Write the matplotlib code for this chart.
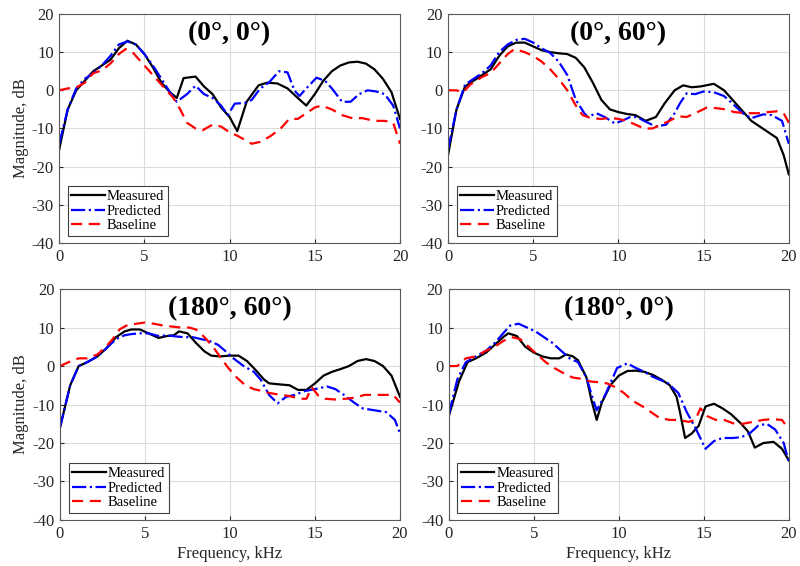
import matplotlib
matplotlib.use("Agg")
import matplotlib.pyplot as plt

plt.rcParams['font.family'] = ['Liberation Serif', 'DejaVu Serif']
plt.rcParams['axes.unicode_minus'] = False

# ---- Panel (0°, 0°)
p1_meas_f = [0, 0.5, 1.0, 1.5, 2, 2.5, 3, 3.5, 4, 4.5, 5, 5.5, 6, 6.5, 6.9, 7.3, 8.0, 8.5, 9.0, 9.5, 10.0, 10.45, 11.0, 11.7, 12.2, 12.8, 13.4, 14, 14.5, 15, 15.5, 16, 16.5, 17, 17.5, 18, 18.5, 19, 19.5, 20]
p1_meas_v = [-15.5, -5, 0, 2.5, 5, 6.5, 8, 11, 13, 12, 9.5, 6, 2, -0.5, -2, 3.2, 3.6, 1, -1, -4.5, -7, -10.7, -3, 1.3, 2, 1.8, 0.5, -2, -4, -1, 2.5, 5, 6.5, 7.3, 7.5, 7, 5.5, 3, -0.5, -7.5]
p1_pred_f = [0, 0.5, 1, 1.5, 2, 2.5, 3, 3.5, 4, 4.5, 5, 5.5, 6, 6.5, 6.9, 7.5, 8.0, 8.5, 9.0, 9.5, 9.9, 10.3, 10.9, 11.3, 11.8, 12.3, 12.9, 13.4, 13.8, 14.1, 14.5, 15.1, 15.6, 16, 16.6, 17.1, 17.6, 18.1, 18.6, 19.1, 19.6, 20]
p1_pred_v = [-14, -5, 0.5, 3, 4.5, 6.5, 9, 12, 12.8, 12, 9.5, 6.5, 3, -0.5, -3, -1, 1.2, -1, -2, -4, -6.5, -3.5, -3.3, -2.5, 0.5, 2, 5, 4.7, 0, -1.5, 0.5, 3.3, 2.5, 0.5, -3, -3, -1, 0, -0.3, -1, -4, -10]
p1_base_f = [0, 0.5, 1, 1.5, 2, 2.5, 3, 3.5, 3.9, 4.3, 4.7, 5.2, 5.7, 6.2, 6.7, 7.1, 7.5, 8, 8.4, 9.0, 9.5, 10.0, 10.5, 11.3, 11.8, 12.4, 13.0, 13.5, 14, 14.5, 15, 15.4, 16, 16.6, 17.2, 17.8, 18.5, 19.1, 19.6, 20]
p1_base_v = [0, 0.5, 0.7, 2, 4.5, 5.2, 7, 9.5, 10.8, 10, 8, 5.5, 3, 0.5, -2, -5, -8.5, -10, -10.5, -9, -9.5, -11, -12, -14, -13.5, -12, -10, -7.5, -7.5, -6, -4.5, -4, -5, -6.5, -7.3, -7.3, -8, -8, -8.5, -14]

# ---- Panel (0°, 60°)
p2_meas_f = [0, 0.5, 1, 1.5, 2, 2.5, 3, 3.5, 4, 4.5, 5, 5.5, 6, 6.5, 7, 7.5, 8, 8.5, 9, 9.5, 10, 10.5, 11, 11.6, 12.2, 12.7, 13.3, 13.8, 14.3, 14.8, 15.6, 16.2, 16.7, 17.2, 17.8, 18.3, 18.8, 19.3, 19.7, 20]
p2_meas_v = [-17, -5, 1, 2.5, 4, 5.5, 9, 11.5, 12.5, 12.5, 11.5, 10.5, 10, 9.7, 9.5, 8.5, 6, 2, -2.5, -5, -5.7, -6.2, -6.5, -8, -7, -3.5, 0, 1.3, 0.8, 1, 1.7, 0, -2.5, -5, -8, -9.5, -11, -12.5, -17, -22]
p2_pred_f = [0, 0.5, 1, 1.5, 2, 2.5, 3, 3.5, 4, 4.5, 5, 5.5, 6, 6.5, 7, 7.5, 8, 8.2, 8.7, 9.2, 9.8, 10.2, 10.7, 11.1, 11.5, 12.2, 12.8, 13.3, 13.6, 14, 14.5, 15, 15.6, 16.2, 16.7, 17.3, 17.8, 18.5, 19.0, 19.6, 20]
p2_pred_v = [-15.5, -5, 1.5, 3, 4.5, 6.5, 10, 12, 13.2, 13.5, 12.5, 11, 9.8, 7.5, 4, -2.5, -6, -7, -6, -7, -8.7, -8, -7, -7, -8, -9.5, -9, -6, -3.5, -0.8, -1, -0.3, -0.5, -1.5, -3.5, -6, -7.3, -6.3, -6.5, -8, -14]
p2_base_f = [0, 0.5, 0.9, 1.3, 2, 2.5, 3, 3.5, 3.9, 4.5, 5, 5.5, 6, 6.5, 7, 7.5, 7.9, 8.4, 9, 9.5, 10, 10.5, 11, 11.5, 12, 12.5, 13, 13.5, 14, 14.5, 15.2, 15.8, 16.3, 16.8, 17.5, 18.2, 18.8, 19.3, 19.7, 20]
p2_base_v = [0, 0, -0.5, 1.5, 3.5, 4.5, 7, 9.5, 10.8, 10, 9, 7.5, 5.5, 3, 0, -4, -6.5, -7.3, -7.5, -7.2, -7.5, -8, -9, -10, -10, -9, -8, -6.8, -7, -6, -4.5, -4.7, -5, -5.7, -6, -6, -5.7, -5.5, -6, -8.5]

# ---- Panel (180°, 60°)
p3_meas_f = [0, 0.6, 1.1, 1.6, 2.2, 2.7, 3.3, 3.8, 4.2, 4.7, 5.2, 5.8, 6.3, 6.7, 7.0, 7.5, 8.0, 8.5, 8.9, 9.4, 10, 10.5, 11, 11.5, 12, 12.3, 13, 13.5, 14, 14.5, 15, 15.5, 16, 16.5, 17, 17.5, 18, 18.5, 19, 19.5, 20]
p3_meas_v = [-16, -5, 0, 1, 2.5, 4.5, 7.5, 9, 9.5, 9.5, 8.5, 7.3, 7.8, 8, 9, 8.5, 6, 3.8, 2.7, 2.5, 2.7, 2.7, 1.3, -1, -3.5, -4.5, -4.8, -5, -6.2, -6.2, -4.5, -2.5, -1.5, -0.8, 0, 1.3, 1.8, 1.3, 0, -2.5, -8]
p3_pred_f = [0, 0.6, 1.1, 1.6, 2.2, 2.7, 3.3, 3.8, 4.2, 4.7, 5.2, 5.8, 6.3, 6.8, 7.3, 7.8, 8.3, 8.8, 9.3, 9.7, 10.2, 10.8, 11.4, 11.8, 12.3, 12.8, 13.3, 13.8, 14.4, 15, 15.7, 16.2, 16.7, 17.3, 17.8, 18.5, 19.2, 19.7, 20]
p3_pred_v = [-16, -5, 0, 1, 2.5, 4.5, 7, 8, 8.3, 8.5, 8.5, 7.8, 8, 7.7, 7.5, 7.5, 7, 6.5, 5.5, 4, 2, 0, -1.5, -3.5, -7.5, -9.7, -8, -7.5, -6.5, -6, -5.3, -6, -7.5, -9.5, -11, -11.5, -12, -14, -17.5]
p3_base_f = [0, 0.5, 1.1, 1.6, 2.2, 2.7, 3.1, 3.5, 3.9, 4.5, 5, 5.5, 6.1, 6.5, 7.1, 7.6, 8.0, 8.5, 9.0, 9.4, 9.9, 10.4, 10.9, 11.4, 11.9, 12.3, 13, 13.5, 14.1, 14.5, 14.8, 15.2, 15.6, 16.2, 16.8, 17.4, 17.9, 18.5, 19.1, 19.6, 20]
p3_base_v = [0, 1, 2, 2, 3, 5, 7, 9.5, 10.5, 11, 11.3, 11, 10.5, 10.3, 10, 10, 9.5, 7.5, 5, 2.5, -0.5, -3, -5, -6, -6.5, -7, -7.5, -7.8, -8.5, -8.5, -5.5, -7.7, -8.5, -8.7, -8.5, -8.2, -7.5, -7.5, -7.5, -7.5, -9.5]

# ---- Panel (180°, 0°)
p4_meas_f = [0, 0.6, 1.1, 1.6, 2.2, 2.7, 3.2, 3.5, 4.0, 4.5, 5, 5.5, 6, 6.5, 6.9, 7.3, 7.6, 8.1, 8.4, 8.7, 9.0, 9.5, 10, 10.5, 11, 11.5, 12, 12.5, 13, 13.4, 13.6, 13.9, 14.3, 14.7, 15.1, 15.6, 16.1, 16.6, 17.2, 17.6, 18, 18.5, 19.1, 19.6, 20]
p4_meas_v = [-13, -4, 1, 2, 3.5, 5.5, 7.5, 8.5, 7.8, 5, 3.5, 2.5, 2, 2, 3, 2.5, 1.5, -3, -9, -14, -9.5, -5, -2.5, -1.3, -1.2, -1.5, -2.3, -3.5, -5, -8, -12, -18.7, -17.5, -15.5, -10.5, -9.8, -11, -12.5, -15, -17, -21.2, -20, -19.7, -21.5, -24.5]
p4_pred_f = [0, 0.5, 1, 1.6, 2.2, 2.7, 3.2, 3.6, 4.1, 4.6, 5.1, 5.6, 6.1, 6.6, 7.1, 7.6, 8.1, 8.4, 8.7, 9.2, 9.5, 9.9, 10.5, 11, 11.5, 12, 12.5, 12.9, 13.5, 14, 14.5, 15.1, 15.6, 16.1, 16.7, 17.2, 17.7, 18.2, 18.7, 19.2, 19.7, 20]
p4_pred_v = [-12.5, -3.5, 1, 2.5, 4, 6, 8.5, 10.5, 11, 10, 9, 7.5, 6, 4, 2, 1, -3, -7.5, -11.5, -7.5, -4.5, -0.5, 0.7, -0.5, -1.5, -2.8, -3.7, -4.5, -7, -12, -16, -21.5, -19.5, -18.7, -18.7, -18.5, -17.5, -15.5, -15, -16.5, -20, -25]
p4_base_f = [0, 0.5, 1, 1.6, 2.2, 2.7, 3.2, 3.7, 4.2, 4.7, 5.2, 5.7, 6.2, 6.8, 7.3, 7.8, 8.3, 8.8, 9.3, 9.8, 10.3, 10.8, 11.4, 11.9, 12.4, 13, 13.5, 14.1, 14.5, 14.8, 15.2, 15.7, 16.2, 16.8, 17.3, 17.9, 18.5, 19.0, 19.6, 20]
p4_base_v = [0, 0, 2, 2.5, 4, 5, 6.5, 7.5, 7, 5, 3, 1, -0.5, -2, -3, -3.3, -4, -4.2, -4.5, -5.5, -7, -9, -10.5, -12, -13.5, -14, -14, -14.5, -14, -11, -13, -14, -14, -15, -15, -14.5, -14, -13.8, -14, -16.5]

titles = ["(0°, 0°)", "(0°, 60°)", "(180°, 60°)", "(180°, 0°)"]
series_labels = ["Measured", "Predicted", "Baseline"]
x_ticks = [0, 5, 10, 15, 20]
y_ticks = [-40, -30, -20, -10, 0, 10, 20]

panels = [
    (p1_meas_f, p1_meas_v, p1_pred_f, p1_pred_v, p1_base_f, p1_base_v),
    (p2_meas_f, p2_meas_v, p2_pred_f, p2_pred_v, p2_base_f, p2_base_v),
    (p3_meas_f, p3_meas_v, p3_pred_f, p3_pred_v, p3_base_f, p3_base_v),
    (p4_meas_f, p4_meas_v, p4_pred_f, p4_pred_v, p4_base_f, p4_base_v),
]

fig = plt.figure(figsize=(8.0, 5.66), dpi=100)
rects = [
    [0.074, 0.5707, 0.426, 0.4046],
    [0.560, 0.5707, 0.426, 0.4046],
    [0.075, 0.0813, 0.425, 0.408],
    [0.561, 0.0813, 0.425, 0.408],
]
tick_col = '#262626'
for i, (rect, data, title) in enumerate(zip(rects, panels, titles)):
    ax = fig.add_axes(rect)
    mf, mv, pf, pv, bf, bv = data
    ax.plot(mf, mv, color='black', lw=1.6, ls='-', label=series_labels[0])
    ax.plot(pf, pv, color='#0000FF', lw=1.6, ls='-.', label=series_labels[1])
    ax.plot(bf, bv, color='#FF0000', lw=1.6, ls=(0, (5, 3)), label=series_labels[2])
    ax.set_xlim(0, 20)
    ax.set_ylim(-40, 20)
    ax.set_xticks(x_ticks)
    ax.set_yticks(y_ticks)
    ax.grid(True, color='#dcdcdc', lw=0.8)
    ax.set_axisbelow(True)
    ax.tick_params(direction='in', length=3, labelsize=12, colors=tick_col, pad=4)
    for sp in ax.spines.values():
        sp.set_color('#5a5a5a')
        sp.set_linewidth(0.8)
    ax.text(0.5, 0.915, title, transform=ax.transAxes, ha='center', va='center',
            fontsize=20, fontweight='bold', color='black')
    if i in (0, 2):
        ax.set_ylabel("Magnitude, dB", fontsize=12, color=tick_col, labelpad=2)
    if i in (2, 3):
        ax.set_xlabel("Frequency, kHz", fontsize=12, color=tick_col, labelpad=3)
    leg = ax.legend(loc='lower left', bbox_to_anchor=(0.025, 0.03), fontsize=10.5,
                    frameon=True, fancybox=False, edgecolor='#404040', framealpha=1,
                    handlelength=2.3, labelspacing=0.1, borderpad=0.25,
                    handletextpad=0.15, borderaxespad=0)
    leg.get_frame().set_linewidth(0.8)

fig.savefig("out.png", dpi=100)
